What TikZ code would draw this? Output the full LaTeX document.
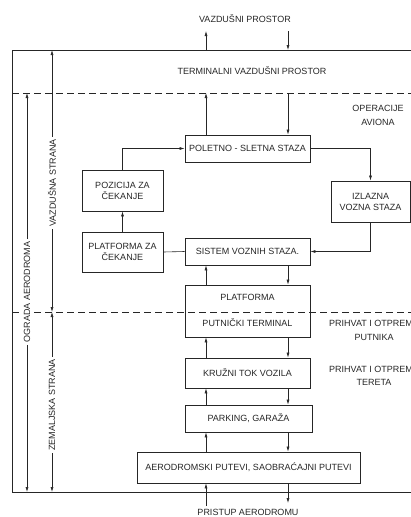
\documentclass[tikz,border=0pt]{standalone}
\usepackage{fontspec}
\setmainfont{Liberation Sans}
\usepackage{tikz}
\usetikzlibrary{arrows.meta}

\colorlet{ink}{black!85}

\begin{document}
\begin{tikzpicture}[x=1pt, y=-1pt,
    every node/.style={font=\fontsize{9}{11}\selectfont, text=ink},
    box/.style={draw=ink, line width=0.8pt, align=center, inner sep=0pt},
    arr/.style={draw=ink, line width=0.6pt, -{Latex[length=5pt,width=3pt]}},
    dimlab/.style={rotate=90, fill=white, inner sep=2.5pt},
    zone/.style={draw=ink, line width=1pt, dash pattern=on 7pt off 4pt}
]
    \useasboundingbox (0,0) rectangle (411,517);

    % Columns for the two-way flows
    \coordinate (u) at (206,0);
    \coordinate (d) at (288,0);

    % Draw the airport fence (frame)
    \coordinate (ftl) at (12,50);
    \coordinate (ftr) at (412,50);
    \coordinate (fbl) at (12,492);
    \coordinate (fbr) at (412,492);
    \draw[ink, line width=0.8pt] (ftr) -- (ftl) -- (fbl) -- (fbr);

    % Draw the two dashed zone borders
    \coordinate (dashAl) at (12,93);
    \coordinate (dashAr) at (412,93);
    \coordinate (dashBl) at (12,312);
    \coordinate (dashBr) at (412,312);
    \draw[zone] (dashAl) -- (dashAr);
    \draw[zone] (dashBl) -- (dashBr);

    % Draw the boxes
    \node[box, minimum width=125, minimum height=27] (polet) at (247.5,148.5) {POLETNO - SLETNA STAZA};
    \node[box, minimum width=81, minimum height=41] (pozic) at (122.5,190.5) {POZICIJA ZA\\ČEKANJE};
    \node[box, minimum width=79, minimum height=41] (izlaz) at (370.5,201.5) {IZLAZNA\\VOZNA STAZA};
    \node[box, minimum width=81, minimum height=40] (cekanje) at (122.5,252) {PLATFORMA ZA\\ČEKANJE};
    \node[box, minimum width=125, minimum height=27] (sistem) at (247.5,251.5) {SISTEM VOZNIH STAZA.};
    \node[box, minimum width=125, minimum height=52] (platf) at (247.5,311) {};
    \node (platfA) at (247.5,297) {PLATFORMA};
    \node (putnik) at (247.5,323) {PUTNIČKI TERMINAL};
    \node[box, minimum width=125, minimum height=30] (kruzni) at (247.5,373) {KRUŽNI TOK VOZILA};
    \node[box, minimum width=127, minimum height=27] (parking) at (248.5,418.5) {PARKING, GARAŽA};
    \node[box, minimum width=223, minimum height=31] (aero) at (248.5,467.5) {AERODROMSKI PUTEVI, SAOBRAĆAJNI PUTEVI};

    % Draw the zone texts
    \node (vprost) at (245,19) {VAZDUŠNI PROSTOR};
    \node (tvprost) at (252,71) {TERMINALNI VAZDUŠNI PROSTOR};
    \node[align=center, font=\fontsize{9}{14}\selectfont] (operac) at (378,115) {OPERACIJE\\AVIONA};
    \node[align=center, font=\fontsize{9}{14}\selectfont] (putn) at (374,330) {PRIHVAT I OTPREMA\\PUTNIKA};
    \node[align=center, font=\fontsize{9}{13}\selectfont] (teret) at (374,376) {PRIHVAT I OTPREMA\\TERETA};
    \node (pristup) at (248,512) {PRISTUP AERODROMU};

    % Draw the flows through the airspace
    \coordinate (topU) at (206,31);
    \coordinate (topD) at (288,31);
    \draw[arr] (u |- ftl) -- (topU);
    \draw[arr] (topD) -- (d |- ftl);
    \draw[arr] (u |- polet.north) -- (u |- dashAl);
    \draw[arr] (d |- dashAl) -- (d |- polet.north);

    % Draw the aircraft loop
    \draw[arr] (polet.east) -| (izlaz.north);
    \draw[arr] (izlaz.south) |- (sistem.east);
    \draw[ink, line width=0.6pt] (cekanje.east) -- (sistem.west);
    \draw[arr] (cekanje.north) -- (pozic.south);
    \draw[arr] (pozic.north) |- (polet.west);

    % Draw the two-way flows down to the access roads
    \draw[arr] (u |- platf.north) -- (u |- sistem.south);
    \draw[arr] (d |- sistem.south) -- (d |- platf.north);
    \draw[arr] (u |- kruzni.north) -- (u |- platf.south);
    \draw[arr] (d |- platf.south) -- (d |- kruzni.north);
    \draw[arr] (u |- parking.north) -- (u |- kruzni.south);
    \draw[arr] (d |- kruzni.south) -- (d |- parking.north);
    \draw[arr] (u |- aero.north) -- (u |- parking.south);
    \draw[arr] (d |- parking.south) -- (d |- aero.north);
    \coordinate (botU) at (206,506);
    \coordinate (botD) at (288,503);
    \draw[arr] (botU) -- (u |- aero.south);
    \draw[arr] (d |- aero.south) -- (botD);

    % Draw the side dimension lines
    \node[dimlab] (oglab) at (27,292) {OGRADA AERODROMA};
    \draw[arr] (oglab.east) -- (oglab |- dashAl);
    \draw[arr] (oglab.west) -- (oglab |- fbl);
    \node[dimlab] (vzlab) at (52,183) {VAZDUŠNA STRANA};
    \draw[arr] (vzlab.east) -- (vzlab |- ftl);
    \draw[arr] (vzlab.west) -- (vzlab |- dashBl);
    \node[dimlab] (zmlab) at (52,405) {ZEMALJSKA STRANA};
    \draw[arr] (zmlab.east) -- (zmlab |- dashBl);
    \draw[arr] (zmlab.west) -- (zmlab |- fbl);
\end{tikzpicture}
\end{document}
